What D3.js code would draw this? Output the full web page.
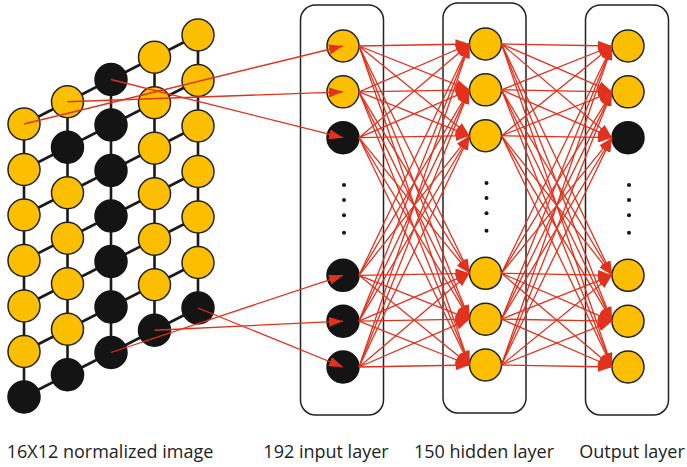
<!DOCTYPE html>
<html>
<head>
<meta charset="utf-8">
<script src="https://cdn.jsdelivr.net/npm/d3@7"></script>
<style>
  html, body { margin: 0; padding: 0; background: #fff; }
  svg { display: block; }
  .label { font-family: "Open Sans", "Noto Sans", sans-serif; font-size: 18px; fill: #222; }
</style>
</head>
<body>
<svg id="net-svg"></svg>
<script>
const width = 687;
const height = 467;

// 5 x 7 pixel grid, column by column (1 = dark pixel, 0 = yellow)
const gridColumns = [
  [0, 0, 0, 0, 0, 0, 1],
  [0, 1, 0, 0, 0, 0, 1],
  [1, 1, 1, 1, 1, 1, 1],
  [0, 0, 0, 0, 0, 0, 1],
  [0, 0, 0, 0, 0, 0, 1]
];

// layers and the colour of their visible nodes
const layers = ["input", "hidden", "output"];
const inputNodes = [0, 0, 1, 1, 1, 1];
const hiddenNodes = [0, 0, 0, 0, 0, 0];
const outputNodes = [0, 0, 1, 0, 0, 0];
const nodeSlots = [0, 1, 2, 5, 6, 7];
const dotSlots = [3.03, 3.36, 3.69, 4.07];

// which grid pixel feeds which input node: [column, row, input node]
const gridLinks = [
  [0, 0, 0],
  [1, 0, 1],
  [2, 0, 2],
  [2, 6, 3],
  [3, 6, 4],
  [4, 6, 5]
];

const labels = ["16X12 normalized image", "192 input layer", "150 hidden layer", "Output layer"];

const yellow = "#fbbf00";
const dark = "#141414";
const red = "#e2311d";
const r = 16;

const svg = d3.select("#net-svg")
  .attr("width", width)
  .attr("height", height)
  .attr("viewBox", `0 0 ${width} ${height}`);

// arrow head
svg.append("defs").append("marker")
  .attr("id", "arrow")
  .attr("markerUnits", "userSpaceOnUse")
  .attr("viewBox", "0 0 14 10")
  .attr("refX", 14)
  .attr("refY", 5)
  .attr("markerWidth", 14)
  .attr("markerHeight", 10)
  .attr("orient", "auto")
  .append("path")
  .attr("d", "M0,0 L14,5 L0,10 Z")
  .attr("fill", red);

// scales for the pixel grid
const xGrid = d3.scaleLinear().domain([0, 4]).range([24, 198]);
const yGrid = d3.scaleLinear().domain([0, 6]).range([124, 397]);
const shift = d3.scaleLinear().domain([0, 4]).range([0, -89]);
const gx = (c) => xGrid(c);
const gy = (c, row) => yGrid(row) + shift(c);

// scales for the layers
const xLayer = d3.scalePoint().domain(layers).range([343, 628]);
const yOffset = { input: 0, hidden: -2, output: 0 };
const ySlot = d3.scaleLinear().domain([0, 7]).range([46, 367]);
const ny = (layer, i) => ySlot(nodeSlots[i]) + yOffset[layer];

// layer boxes
const boxW = 83;
svg.selectAll(".box")
  .data(layers)
  .enter()
  .append("rect")
  .attr("class", "box")
  .attr("x", (d) => xLayer(d) - boxW / 2 - 1)
  .attr("y", (d) => ySlot(0) - 41 + yOffset[d])
  .attr("width", boxW)
  .attr("height", (d) => ySlot(7) - ySlot(0) + 89)
  .attr("rx", 15)
  .attr("fill", "none")
  .attr("stroke", "#222")
  .attr("stroke-width", 1.5);

// grid wires: vertical within a column, diagonal across a row
const wires = [];
gridColumns.forEach((col, c) => {
  col.forEach((v, row) => {
    if (row < col.length - 1) wires.push([gx(c), gy(c, row), gx(c), gy(c, row + 1)]);
    if (c < gridColumns.length - 1) wires.push([gx(c), gy(c, row), gx(c + 1), gy(c + 1, row)]);
  });
});
svg.append("g")
  .selectAll("line")
  .data(wires)
  .enter()
  .append("line")
  .attr("x1", (d) => d[0])
  .attr("y1", (d) => d[1])
  .attr("x2", (d) => d[2])
  .attr("y2", (d) => d[3])
  .attr("stroke", "#1a1a1a")
  .attr("stroke-width", 2.6);

// grid pixels
const pixels = [];
gridColumns.forEach((col, c) => col.forEach((v, row) => pixels.push({ c, row, v })));
svg.append("g")
  .selectAll("circle")
  .data(pixels)
  .enter()
  .append("circle")
  .attr("cx", (d) => gx(d.c))
  .attr("cy", (d) => gy(d.c, d.row))
  .attr("r", r)
  .attr("fill", (d) => (d.v ? dark : yellow))
  .attr("stroke", (d) => (d.v ? dark : "#222"))
  .attr("stroke-width", 1.5);

// fully connected arrows between layers
const links = [];
d3.range(inputNodes.length).forEach((i) => {
  d3.range(hiddenNodes.length).forEach((j) => {
    links.push([xLayer("input") + r, ny("input", i), xLayer("hidden") - r, ny("hidden", j)]);
  });
});
d3.range(hiddenNodes.length).forEach((i) => {
  d3.range(outputNodes.length).forEach((j) => {
    links.push([xLayer("hidden") + r, ny("hidden", i), xLayer("output") - r, ny("output", j)]);
  });
});

const nodeData = [];
[["input", inputNodes], ["hidden", hiddenNodes], ["output", outputNodes]].forEach(([layer, nodes]) => {
  nodes.forEach((v, i) => nodeData.push({ layer, i, v }));
});

// nodes
svg.append("g")
  .selectAll("circle")
  .data(nodeData)
  .enter()
  .append("circle")
  .attr("cx", (d) => xLayer(d.layer))
  .attr("cy", (d) => ny(d.layer, d.i))
  .attr("r", r)
  .attr("fill", (d) => (d.v ? dark : yellow))
  .attr("stroke", (d) => (d.v ? dark : "#222"))
  .attr("stroke-width", 1.5);

svg.append("g")
  .selectAll("line")
  .data(links)
  .enter()
  .append("line")
  .attr("x1", (d) => d[0])
  .attr("y1", (d) => d[1])
  .attr("x2", (d) => d[2])
  .attr("y2", (d) => d[3])
  .attr("stroke", red)
  .attr("stroke-width", 1.3)
  .attr("marker-end", "url(#arrow)");

// arrows from the image pixels into the input layer (drawn over everything)
svg.append("g")
  .selectAll("line")
  .data(gridLinks)
  .enter()
  .append("line")
  .attr("x1", (d) => gx(d[0]))
  .attr("y1", (d) => gy(d[0], d[1]))
  .attr("x2", (d) => xLayer("input"))
  .attr("y2", (d) => ny("input", d[2]))
  .attr("stroke", red)
  .attr("stroke-width", 1.3)
  .attr("marker-end", "url(#arrow)");

// ellipsis dots
const dots = [];
layers.forEach((layer) => dotSlots.forEach((s) => dots.push({ layer, s })));
svg.append("g")
  .selectAll("circle")
  .data(dots)
  .enter()
  .append("circle")
  .attr("cx", (d) => xLayer(d.layer) + 1)
  .attr("cy", (d) => ySlot(d.s) + yOffset[d.layer])
  .attr("r", 2)
  .attr("fill", dark);

// labels
const labelX = [110, 326, 484, 632];
svg.selectAll(".label")
  .data(labels)
  .enter()
  .append("text")
  .attr("class", "label")
  .attr("x", (d, i) => labelX[i])
  .attr("y", 458)
  .attr("text-anchor", "middle")
  .text((d) => d);
</script>
</body>
</html>
